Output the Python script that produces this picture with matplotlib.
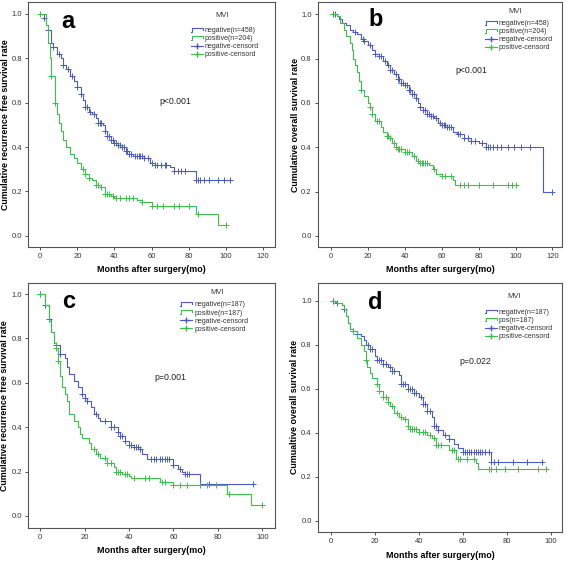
import numpy as np
import matplotlib
matplotlib.use("Agg")
import matplotlib.pyplot as plt
from matplotlib.lines import Line2D
from matplotlib.legend_handler import HandlerBase

plt.rcParams['font.family'] = ['Liberation Sans', 'DejaVu Sans']

BLUE = '#4a5cc4'
GREEN = '#3cc04c'

## panel a : recurrence free, all patients
a_neg_t = [0, 2, 3, 4, 6, 7, 9, 11, 12, 14, 16, 18, 20, 22, 23, 24, 26, 28, 30, 31, 34, 35, 36, 38, 40, 42, 44, 46, 48, 50, 56, 59, 62, 70, 72, 84]
a_neg_s = [1.0, .98, .95, .93, .87, .85, .82, .80, .77, .75, .72, .70, .67, .64, .61, .58, .56, .55, .53, .51, .50, .47, .45, .43, .42, .41, .40, .38, .37, .36, .35, .33, .32, .31, .29, .25]
a_neg_end = 102
a_neg_cens = [2, 4, 7, 10, 12, 15, 17, 20, 22, 24, 25, 27, 29, 31, 32, 33, 35, 36, 37, 38, 39, 40, 41, 42, 43, 44, 45, 46, 47, 48, 49, 51, 52, 53, 54, 55, 56, 58, 60, 62, 63, 65, 67, 68, 72, 74, 76, 78, 84, 85, 86, 88, 91, 96, 99, 102]
a_pos_t = [0, 3, 4, 5, 6, 8, 9, 10, 11, 12, 14, 16, 18, 20, 22, 24, 26, 28, 30, 33, 35, 38, 40, 52, 55, 60, 84, 96]
a_pos_s = [1.0, .95, .87, .80, .72, .60, .55, .51, .47, .43, .40, .37, .35, .33, .30, .28, .26, .25, .23, .22, .19, .18, .17, .16, .15, .135, .10, .05]
a_pos_end = 100
a_pos_cens = [0, 6, 8, 23, 24, 26, 30, 31, 33, 35, 36, 37, 39, 41, 43, 46, 48, 50, 55, 60, 63, 66, 72, 75, 80, 85, 100]

## panel b : overall survival, all patients
b_neg_t = [0, 3, 4, 6, 8, 10, 12, 14, 16, 18, 20, 22, 24, 26, 28, 30, 32, 34, 36, 38, 40, 42, 44, 46, 47, 48, 50, 52, 54, 56, 58, 60, 63, 66, 68, 72, 76, 80, 84, 115]
b_neg_s = [1.0, .99, .98, .96, .95, .93, .92, .91, .89, .88, .86, .84, .82, .81, .79, .77, .75, .73, .71, .69, .68, .66, .64, .62, .60, .58, .57, .55, .54, .53, .51, .50, .49, .47, .46, .44, .43, .42, .40, .20]
b_neg_end = 120
b_neg_cens = [1, 2, 13, 17, 18, 21, 24, 26, 27, 29, 31, 32, 33, 35, 36, 37, 38, 39, 40, 41, 42, 43, 44, 45, 46, 48, 50, 51, 52, 53, 54, 55, 57, 59, 60, 61, 62, 63, 64, 65, 69, 70, 72, 74, 76, 78, 82, 84, 85, 86, 88, 90, 92, 96, 99, 103, 108, 120]
b_pos_t = [0, 3, 5, 7, 8, 10, 11, 12, 13, 14, 15, 16, 18, 20, 21, 22, 24, 27, 28, 30, 32, 33, 35, 36, 40, 44, 46, 48, 53, 55, 57, 60, 66, 67]
b_pos_s = [1.0, .99, .96, .93, .90, .87, .84, .80, .77, .74, .70, .66, .63, .60, .58, .55, .52, .49, .47, .45, .44, .42, .40, .39, .38, .36, .34, .33, .32, .30, .28, .27, .25, .23]
b_pos_end = 100
b_pos_cens = [16, 21, 22, 25, 26, 30, 31, 32, 34, 35, 36, 37, 38, 40, 41, 42, 45, 47, 48, 49, 50, 51, 52, 56, 60, 62, 65, 70, 72, 74, 80, 88, 96, 98, 100]

## panel c : recurrence free, matched
c_neg_t = [0, 2, 4, 5, 6, 7, 9, 11, 12, 13, 15, 17, 19, 20, 21, 23, 24, 26, 27, 32, 35, 36, 38, 40, 42, 45, 46, 48, 60, 62, 64, 65, 72]
c_neg_s = [1.0, .95, .89, .83, .78, .77, .73, .71, .67, .64, .61, .58, .55, .53, .52, .49, .46, .44, .43, .40, .38, .36, .34, .32, .31, .30, .28, .255, .23, .21, .20, .19, .145]
c_neg_end = 96
c_neg_cens = [0, 2, 4, 7, 9, 19, 20, 21, 25, 29, 32, 33, 35, 36, 37, 38, 40, 41, 42, 43, 44, 45, 50, 51, 52, 54, 55, 56, 57, 58, 60, 63, 65, 66, 67, 76, 96]
c_pos_t = [0, 2, 4, 5, 6, 7, 8, 9, 10, 11, 12, 13, 15, 17, 18, 19, 22, 23, 25, 27, 30, 33, 34, 37, 40, 41, 54, 60, 84, 95]
c_pos_s = [1.0, .95, .88, .83, .78, .755, .70, .63, .58, .55, .52, .46, .43, .40, .37, .35, .33, .30, .28, .26, .24, .22, .20, .19, .18, .17, .155, .14, .10, .05]
c_pos_end = 100
c_pos_cens = [0, 7, 8, 24, 26, 29, 30, 32, 34, 35, 36, 38, 39, 42, 47, 49, 55, 56, 60, 63, 66, 72, 75, 79, 85, 100]

## panel d : overall survival, matched
d_neg_t = [0, 2, 3, 5, 6, 7, 8, 9, 10, 12, 14, 15, 16, 18, 20, 21, 24, 26, 28, 31, 32, 35, 38, 40, 42, 44, 46, 47, 49, 51, 54, 56, 58, 60, 73]
d_neg_s = [1.0, .995, .99, .98, .96, .93, .90, .87, .86, .85, .84, .82, .80, .78, .75, .73, .71, .70, .68, .66, .62, .60, .58, .56, .53, .50, .47, .43, .41, .39, .37, .35, .33, .31, .265]
d_neg_end = 96
d_neg_cens = [1, 3, 6, 10, 12, 17, 18, 19, 21, 22, 23, 24, 25, 27, 28, 29, 32, 33, 34, 35, 36, 37, 38, 39, 41, 42, 43, 44, 45, 47, 48, 49, 52, 54, 60, 61, 62, 63, 64, 65, 66, 67, 68, 69, 70, 72, 73, 74, 76, 83, 89, 96]
d_pos_t = [0, 2, 3, 5, 6, 7, 8, 9, 10, 12, 14, 15, 16, 16.5, 18, 19, 21, 22, 24, 26, 27, 29, 31, 33, 35, 36, 40, 44, 46, 48, 54, 57, 66, 67]
d_pos_s = [1.0, .995, .99, .98, .96, .93, .90, .87, .86, .83, .80, .77, .73, .70, .67, .65, .62, .59, .56, .54, .52, .49, .47, .46, .43, .415, .405, .39, .375, .345, .32, .28, .26, .235]
d_pos_end = 98
d_pos_cens = [10, 16, 21, 22, 24, 25, 26, 28, 30, 32, 34, 35, 36, 37, 38, 39, 40, 42, 43, 45, 47, 48, 49, 50, 55, 56, 58, 59, 62, 65, 72, 73, 75, 79, 85, 94, 98]

W, H = 567, 562


class StepHandler(HandlerBase):
    # little step shaped icon like in SPSS legends
    def create_artists(self, legend, orig, xd, yd, w, h, fontsize, trans):
        xs = np.array([0, 0.12, 0.12, 1.0, 1.0]) * w - xd
        ys = np.array([0.1, 0.1, 0.9, 0.9, 0.5]) * h - yd
        ln = Line2D(xs, ys, color=orig.get_color(), lw=0.8, transform=trans)
        return [ln]


def km(ax, t, s, end, cens, color):
    tt = list(t) + [end]
    ss = list(s) + [s[-1]]
    ax.step(tt, ss, where='post', color=color, lw=0.8)
    idx = np.searchsorted(t, cens, side='right') - 1
    cy = np.array(s)[idx]
    ax.plot(cens, cy, ls='none', marker='+', ms=4, mew=0.7, color=color)


# axes rect, xlim, ylim, xmax, curves, ylabel, p text & pos, letter pos, MVI pos,
# legend (icon left px, first row y px), label coords
panels = [
    dict(letter='a', rect=[0.0494, 0.5605, 0.4356, 0.4359], xl=(-6.6, 126.5), yl=(-0.051, 1.054), xmax=120,
         neg=(a_neg_t, a_neg_s, a_neg_end, a_neg_cens), pos=(a_pos_t, a_pos_s, a_pos_end, a_pos_cens),
         ylab='Cumulative recurrence free survival rate', p='p<0.001', pxy=(72.6, 0.604), lxy=(15.1, 0.965),
         mvi=(97.9, 0.991), leg=(190.7, 31), labs=['negative(n=458)', 'positive(n=204)'], xc=-0.09, yc=-0.093),
    dict(letter='b', rect=[0.5608, 0.5605, 0.4303, 0.4359], xl=(-7.2, 125.2), yl=(-0.050, 1.055), xmax=120,
         neg=(b_neg_t, b_neg_s, b_neg_end, b_neg_cens), pos=(b_pos_t, b_pos_s, b_pos_end, b_pos_cens),
         ylab='Cumulative overall survival rate', p='p<0.001', pxy=(76, 0.746), lxy=(24.1, 0.974),
         mvi=(99.9, 1.012), leg=(484.7, 24), labs=['negative(n=458)', 'positive(n=204)'], xc=-0.09, yc=-0.094),
    dict(letter='c', rect=[0.0494, 0.0610, 0.4356, 0.4354], xl=(-5.5, 105.7), yl=(-0.053, 1.050), xmax=100,
         neg=(c_neg_t, c_neg_s, c_neg_end, c_neg_cens), pos=(c_pos_t, c_pos_s, c_pos_end, c_pos_cens),
         ylab='Cumulative recurrence free survival rate', p='p=0.001', pxy=(58.4, 0.623), lxy=(12.6, 0.965),
         mvi=(79.5, 1.006), leg=(180, 305.3), labs=['negative(n=187)', 'positive(n=187)'], xc=-0.094, yc=-0.097),
    dict(letter='d', rect=[0.5608, 0.0539, 0.4303, 0.4425], xl=(-5.75, 105.1), yl=(-0.050, 1.080), xmax=100,
         neg=(d_neg_t, d_neg_s, d_neg_end, d_neg_cens), pos=(d_pos_t, d_pos_s, d_pos_end, d_pos_cens),
         ylab='Cumualtive overall survival rate', p='p=0.022', pxy=(65.9, 0.724), lxy=(20.5, 0.99),
         mvi=(83.5, 1.018), leg=(484.7, 312.7), labs=['negative(n=187)', 'pos(n=187)'], xc=-0.0965, yc=-0.095),
]

fig = plt.figure(figsize=(W / 100, H / 100), dpi=100)

for P in panels:
    ax = fig.add_axes(P['rect'])
    km(ax, *P['neg'], BLUE)
    km(ax, *P['pos'], GREEN)
    ax.set_xlim(*P['xl'])
    ax.set_ylim(*P['yl'])
    ax.set_xticks(np.arange(0, P['xmax'] + 1, 20))
    yt = np.arange(0, 1.01, 0.2)
    ax.set_yticks(yt)
    ax.set_yticklabels(['%.1f' % v for v in yt])
    ax.tick_params(labelsize=5.5, length=2.5, width=0.6, colors='#333333', pad=2)
    for sp in ax.spines.values():
        sp.set_color('#555555')
        sp.set_linewidth(0.8)
    ax.set_xlabel('Months after surgery(mo)', fontsize=6.4, fontweight='bold')
    ax.set_ylabel(P['ylab'], fontsize=6.4, fontweight='bold')
    ax.xaxis.label.set_va('center')
    ax.yaxis.label.set_va('center')
    ax.xaxis.set_label_coords(0.5, P['xc'])
    ax.yaxis.set_label_coords(P['yc'], 0.5)
    ax.text(*P['lxy'], P['letter'], fontsize=17, fontweight='bold', ha='center', va='center')
    ax.text(*P['pxy'], P['p'], fontsize=6.3, ha='center', va='center', color='#222222')
    ax.text(*P['mvi'], 'MVI', fontsize=5.5, ha='center', va='center', color='#333333')

    handles = [Line2D([], [], color=BLUE), Line2D([], [], color=GREEN),
               Line2D([0], [0], color=BLUE, lw=0.8, marker='+', ms=4),
               Line2D([0], [0], color=GREEN, lw=0.8, marker='+', ms=4)]
    lx, ly = P['leg']
    leg = ax.legend(handles, P['labs'] + ['negative-censord', 'positive-censord'],
                    handler_map={handles[0]: StepHandler(), handles[1]: StepHandler()},
                    loc='upper left', bbox_to_anchor=(lx / W, 1 - (ly - 3.8) / H),
                    bbox_transform=fig.transFigure,
                    fontsize=5, frameon=False, borderpad=0, borderaxespad=0,
                    handlelength=1.75, handletextpad=0.3, labelspacing=0.15)
    for tx in leg.get_texts():
        tx.set_color('#333333')

fig.savefig('out.png', dpi=100)
